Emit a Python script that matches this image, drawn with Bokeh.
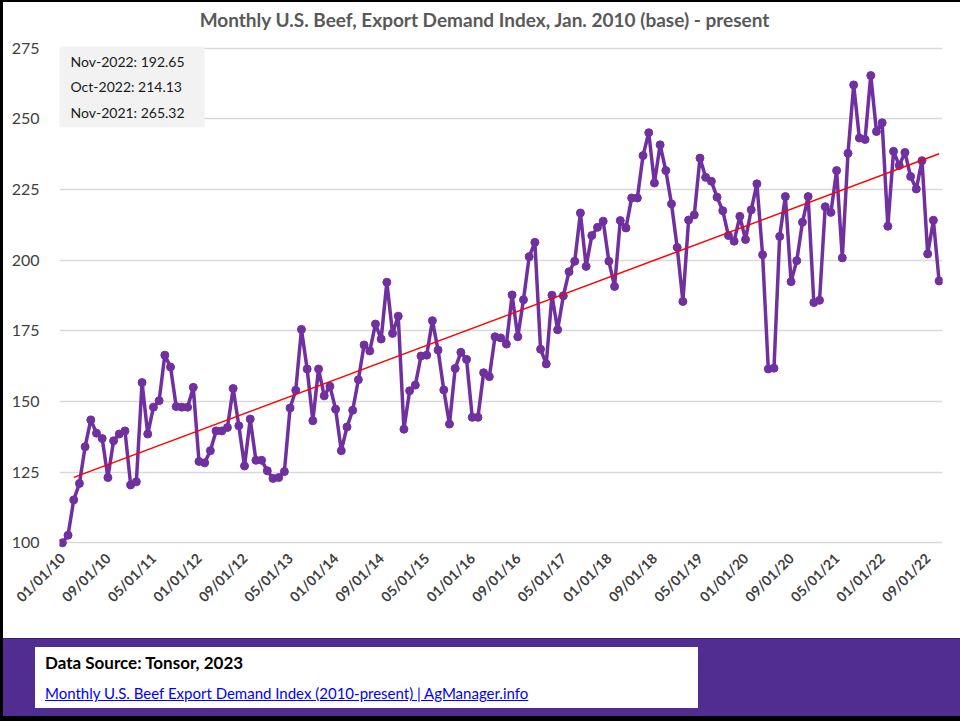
import numpy as np
from math import pi
from bokeh.plotting import figure
from bokeh.models import Range1d, FixedTicker, Label, Div
from bokeh.layouts import column, row
from bokeh.core.properties import value
from bokeh.embed import file_html
from bokeh.resources import INLINE

# ---------------- data ----------------
months = list(range(155))  # Jan 2010 .. Nov 2022
index_values = [
    100.0, 102.7, 115.2, 121.0, 134.0, 143.5, 138.8, 136.9, 123.1, 136.1, 138.5, 139.6,
    120.5, 121.6, 156.7, 138.5, 148.0, 150.3, 166.4, 162.2, 148.2, 148.0, 148.0, 155.0,
    128.8, 128.3, 132.6, 139.6, 139.6, 140.8, 154.6, 141.4, 127.2, 143.8, 129.2, 129.2,
    125.5, 122.8, 123.1, 125.2, 147.7, 154.0, 175.5, 161.5, 143.2, 161.5, 152.0, 155.4,
    147.3, 132.6, 141.0, 146.9, 157.7, 170.0, 167.9, 177.4, 172.1, 192.2, 174.1, 180.2,
    140.2, 153.8, 155.8, 166.1, 166.4, 178.6, 168.2, 154.1, 142.0, 161.7, 167.4, 164.9,
    144.4, 144.4, 160.2, 158.8, 172.9, 172.5, 170.3, 187.7, 172.9, 186.0, 201.2, 206.3,
    168.5, 163.3, 187.6, 175.4, 187.4, 195.9, 199.6, 216.7, 197.8, 208.7, 211.6, 213.8,
    199.6, 190.7, 214.0, 211.4, 222.0, 222.0, 237.0, 245.1, 227.3, 240.8, 231.7, 219.9,
    204.5, 185.4, 214.2, 216.0, 236.1, 229.3, 227.9, 222.3, 217.5, 208.7, 206.7, 215.5,
    207.3, 217.8, 227.0, 201.9, 161.5, 161.8, 208.4, 222.5, 192.4, 199.8, 213.4, 222.5,
    185.0, 185.8, 218.9, 216.9, 231.7, 200.8, 237.8, 262.0, 243.2, 242.7, 265.32, 245.5,
    248.6, 212.0, 238.5, 233.5, 238.1, 229.6, 225.2, 235.2, 202.2, 214.13, 192.65,
]
tick_months = [0, 8, 16, 24, 32, 40, 48, 56, 64, 72, 80, 88, 96, 104, 112, 120, 128, 136, 144, 152]
tick_labels = ["01/01/10", "09/01/10", "05/01/11", "01/01/12", "09/01/12", "05/01/13",
               "01/01/14", "09/01/14", "05/01/15", "01/01/16", "09/01/16", "05/01/17",
               "01/01/18", "09/01/18", "05/01/19", "01/01/20", "09/01/20", "05/01/21",
               "01/01/22", "09/01/22"]
y_ticks = [100, 125, 150, 175, 200, 225, 250, 275]
callouts = ["Nov-2022: 192.65", "Oct-2022: 214.13", "Nov-2021: 265.32"]
title_text = "Monthly U.S. Beef, Export Demand Index, Jan. 2010 (base) - present"
source_text = "Data Source: Tonsor, 2023"
link_text = "Monthly U.S. Beef Export Demand Index (2010-present) | AgManager.info"

# linear trend fitted to the series
coef = np.polyfit(months, index_values, 1)
trend_x = [months[2], months[-1]]
trend_y = list(np.polyval(coef, trend_x))

FONT = "Lato"
W = 957               # width right of the 3px black edge
BL, BR = 56, 18       # frame spans x 59..942 of the page
TITLE_H = 30          # page y 2..32
CH, BT, BB = 606, 10, 90   # chart page y 32..638, frame 42..548

# ---------------- title strip ----------------
t = figure(width=W, height=TITLE_H, x_range=Range1d(59, 942), y_range=Range1d(32, 2),
           output_backend="svg", toolbar_location=None,
           x_axis_location=None, y_axis_location=None,
           min_border_left=BL, min_border_right=BR, min_border_top=0, min_border_bottom=0)
t.outline_line_color = None
t.grid.grid_line_color = None
t.text(x=[484.5], y=[19], text=[title_text], text_align="center", text_baseline="middle",
       text_font=value(FONT), text_font_style="bold", text_font_size="19px",
       text_color="#595959")

# ---------------- chart ----------------
p = figure(width=W, height=CH, x_range=Range1d(-0.5, 154.6), y_range=Range1d(98, 277),
           output_backend="svg", toolbar_location=None,
           min_border_left=BL, min_border_right=BR, min_border_top=BT, min_border_bottom=BB)
p.outline_line_color = None
p.background_fill_color = "white"
p.border_fill_color = "white"

p.yaxis.ticker = FixedTicker(ticks=y_ticks)
p.yaxis.axis_line_color = None
p.yaxis.major_tick_line_color = None
p.yaxis.minor_tick_line_color = None
p.yaxis.major_label_text_font = FONT
p.yaxis.major_label_text_font_size = "16px"
p.yaxis.major_label_text_color = "#404040"
p.yaxis.major_label_standoff = 14

p.xaxis.ticker = FixedTicker(ticks=tick_months)
p.xaxis.major_label_overrides = dict(zip(tick_months, tick_labels))
p.xaxis.major_label_orientation = pi / 4
p.xaxis.axis_line_color = None
p.xaxis.major_tick_line_color = None
p.xaxis.minor_tick_line_color = None
p.xaxis.major_label_text_font = FONT
p.xaxis.major_label_text_font_style = "bold"
p.xaxis.major_label_text_font_size = "14px"
p.xaxis.major_label_text_color = "#404040"
p.xaxis.major_label_standoff = 1

p.xgrid.grid_line_color = None
p.ygrid.ticker = FixedTicker(ticks=y_ticks)
p.ygrid.grid_line_color = "#d9d9d9"
p.ygrid.grid_line_width = 1.5

p.line(months, index_values, line_color="#7030a0", line_width=3.5)
p.scatter(months, index_values, size=8, fill_color="#7030a0", line_color="#7030a0")
p.line(trend_x, trend_y, line_color="#ff0000", line_width=1.5)

# call-out box (screen units are measured from the frame's lower-left corner)
frame_h = CH - BT - BB
p.add_layout(Label(x=-9, y=frame_h - 4, x_units="screen", y_units="screen",
                   text="\n".join(callouts), text_align="left", text_baseline="top",
                   text_font=FONT, text_font_size="14px", text_color="#1a1a1a",
                   text_line_height=1.52, background_fill_color="#f2f2f2",
                   padding=dict(left=20, right=20, top=6, bottom=6)))

# ---------------- bottom banner ----------------
banner_html = (
    '<div style="position:relative;width:957px;height:78px;background:#512d91;'
    'border-top:1px solid #3a1f6a;box-sizing:border-box;">'
    '<div style="position:absolute;left:32px;top:8px;width:663px;height:61px;background:white;">'
    f'<div style="position:absolute;left:10px;top:5px;font-family:Lato;font-weight:bold;'
    f'font-size:17px;line-height:22px;color:black;white-space:nowrap;">{source_text}</div>'
    f'<div style="position:absolute;left:10px;top:37px;font-family:Lato;font-size:15px;'
    f'line-height:18px;white-space:nowrap;"><a href="https://www.agmanager.info" '
    f'style="color:#0000ff;text-decoration:underline;">{link_text}</a></div>'
    '</div></div>'
    '<div style="width:957px;height:5px;background:black;"></div>'
)
banner = Div(text=banner_html, width=W, height=83, margin=0)

top_edge = Div(text="", width=W, height=2, margin=0, styles={"background-color": "black"})
left_edge = Div(text="", width=3, height=721, margin=0, styles={"background-color": "black"})

layout = row(left_edge, column(top_edge, t, p, banner, spacing=0), spacing=0)
open("out.html", "w").write(file_html(layout, INLINE))
